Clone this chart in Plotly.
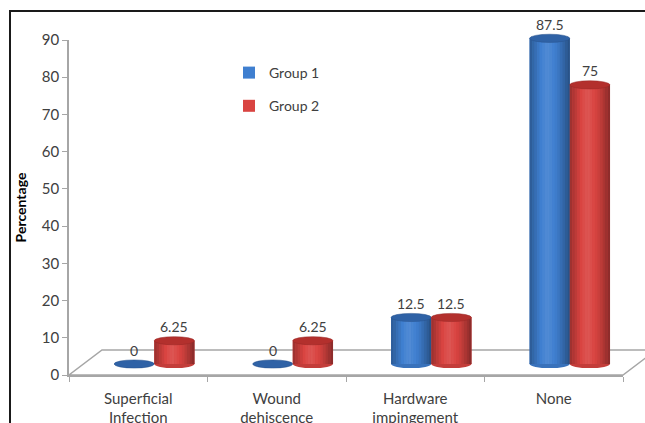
import plotly.graph_objects as go

# ---------------- data ----------------
categories = ["Superficial<br>Infection", "Wound<br>dehiscence", "Hardware<br>impingement", "None"]
group1 = [0, 0, 12.5, 87.5]
group2 = [6.25, 6.25, 12.5, 75]
group1_labels = ["0", "0", "12.5", "87.5"]
group2_labels = ["6.25", "6.25", "12.5", "75"]
series_names = ["Group 1", "Group 2"]
y_tick_values = [0, 10, 20, 30, 40, 50, 60, 70, 80, 90]

# ---------------- layout geometry ----------------
W, H = 645, 423
L, R, T, B = 69, 6, 29, 48
PW, PH = W - L - R, H - T - B          # plotting area in px
AX_W, AX_H = 554, 335                  # front axes size in px
DX, DY = 16, 11                        # depth offset of the bars (3D look)
FDX, FDY = 33, 25                      # full depth of the floor
Y_MAX = 90
BAR_W = 0.29                           # bar width in category units
FONT = "Lato, 'Open Sans', sans-serif"
TXT = "#404040"
GRID = "#A6A6A6"

colors = ["#3F7FD0", "#D94441"]
tops = ["#2F62A6", "#B3302D"]


def fx(px):
    return (px - L) / PW


def fy(py):
    return (H - B - py) / PH


def shade(hex_color, f):
    h = hex_color.lstrip("#")
    rgb = [int(h[i:i + 2], 16) for i in (0, 2, 4)]
    out = []
    for c in rgb:
        if f <= 1:
            v = c * f
        else:
            v = c + (255 - c) * (f - 1)
        out.append(max(0, min(255, int(round(v)))))
    return "rgb({},{},{})".format(*out)


stops = [(0.0, 0.70), (0.3, 1.02), (0.45, 1.10), (0.7, 0.95), (1.0, 0.62)]


def profile(t):
    for (t0, v0), (t1, v1) in zip(stops[:-1], stops[1:]):
        if t0 <= t <= t1:
            return v0 + (v1 - v0) * (t - t0) / (t1 - t0)
    return stops[-1][1]


fig = go.Figure()

series = [group1, group2]
labels = [group1_labels, group2_labels]
for s, (vals, name) in enumerate(zip(series, series_names)):
    fig.add_trace(go.Bar(
        x=categories, y=vals, name=name,
        marker=dict(color=colors[s], line=dict(width=0)),
        xaxis="x2", yaxis="y2",
        legendgroup=name,
        hoverinfo="x+y",
    ))

shapes = []

# floor (3D base)
floor = "M {},{} L {},{} L {},{} L {},{} Z".format(
    fx(L), fy(H - B), fx(L + AX_W), fy(H - B),
    fx(L + AX_W + FDX), fy(H - B - FDY), fx(L + FDX), fy(H - B - FDY))
shapes.append(dict(type="path", path=floor, xref="paper", yref="paper",
                   fillcolor="white", line=dict(color=GRID, width=1.5), layer="below"))

# cylinder decoration drawn from the data values
ell = 1.1   # half height of the ellipses, in value units
N = 16
for s, vals in enumerate(series):
    off = (-0.5 if s == 0 else 0.5) * BAR_W
    for i, v in enumerate(vals):
        c = i + off
        x0, x1 = c - BAR_W / 2, c + BAR_W / 2
        if v > 0:
            # bottom rounded edge
            shapes.append(dict(type="circle", xref="x2", yref="y2",
                               x0=x0, x1=x1, y0=-ell, y1=ell,
                               fillcolor=shade(colors[s], 0.9), line=dict(width=0)))
            for k in range(N):
                t = (k + 0.5) / N
                shapes.append(dict(type="rect", xref="x2", yref="y2",
                                   x0=x0 + BAR_W * k / N, x1=x0 + BAR_W * (k + 1) / N + 0.001,
                                   y0=0, y1=v,
                                   fillcolor=shade(colors[s], profile(t)),
                                   line=dict(width=0)))
        shapes.append(dict(type="circle", xref="x2", yref="y2",
                           x0=x0, x1=x1, y0=v - ell, y1=v + ell,
                           fillcolor=tops[s], line=dict(color=shade(tops[s], 0.85), width=0.5)))

# outer frame of the picture
shapes.append(dict(type="rect", xref="paper", yref="paper",
                   x0=fx(10), x1=fx(720), y0=fy(480), y1=fy(11),
                   line=dict(color="#1a1a1a", width=2), fillcolor="rgba(0,0,0,0)"))

annotations = []
for s, vals in enumerate(series):
    off = (-0.5 if s == 0 else 0.5) * BAR_W
    for i, v in enumerate(vals):
        annotations.append(dict(x=i + off, y=v, xref="x2", yref="y2",
                                text=labels[s][i], showarrow=False,
                                yanchor="middle", yshift=14,
                                font=dict(family=FONT, size=14, color=TXT)))

fig.update_layout(
    width=W, height=H,
    margin=dict(l=L, r=R, t=T, b=B, pad=0, autoexpand=False),
    paper_bgcolor="white", plot_bgcolor="rgba(0,0,0,0)",
    font=dict(family=FONT, size=14, color=TXT),
    barmode="group", bargap=0.42, bargroupgap=0,
    showlegend=True,
    legend=dict(x=fx(229), y=fy(57), xanchor="left", yanchor="top",
                bgcolor="rgba(0,0,0,0)", font=dict(family=FONT, size=14, color=TXT),
                traceorder="grouped", tracegroupgap=12, itemwidth=30),
    xaxis=dict(domain=[0, AX_W / PW], anchor="y", type="category",
               categoryarray=categories, categoryorder="array",
               range=[-0.5, len(categories) - 0.5], automargin=False,
               showline=True, linecolor=GRID, linewidth=1.5,
               ticks="outside", ticklen=5, tickcolor=GRID, tickson="boundaries",
               ticklabelstandoff=9,
               showgrid=False, zeroline=False,
               tickfont=dict(family=FONT, size=15, color=TXT)),
    yaxis=dict(domain=[0, AX_H / PH], anchor="x", range=[0, Y_MAX], automargin=False,
               tickvals=y_tick_values, showline=True, linecolor=GRID, linewidth=1.5,
               ticks="outside", ticklen=5, tickcolor=GRID, showgrid=False, zeroline=False,
               tickfont=dict(family=FONT, size=15, color=TXT),
               title=dict(text="<b>Percentage</b>", standoff=12,
                          font=dict(family=FONT, size=14, color="#000000"))),
    xaxis2=dict(domain=[DX / PW, 1], anchor="y2", type="category",
                categoryarray=categories, categoryorder="array",
                range=[-0.5, len(categories) - 0.5], visible=False),
    yaxis2=dict(domain=[0, 1], anchor="x2",
                range=[-DY * Y_MAX / AX_H, Y_MAX], visible=False),
    shapes=shapes,
    annotations=annotations,
)

# the front axes carry the ticks; an empty trace keeps them drawn
fig.add_trace(go.Scatter(x=categories, y=[None] * len(categories), xaxis="x", yaxis="y",
                         showlegend=False, hoverinfo="skip"))

fig.write_html("out.html")
